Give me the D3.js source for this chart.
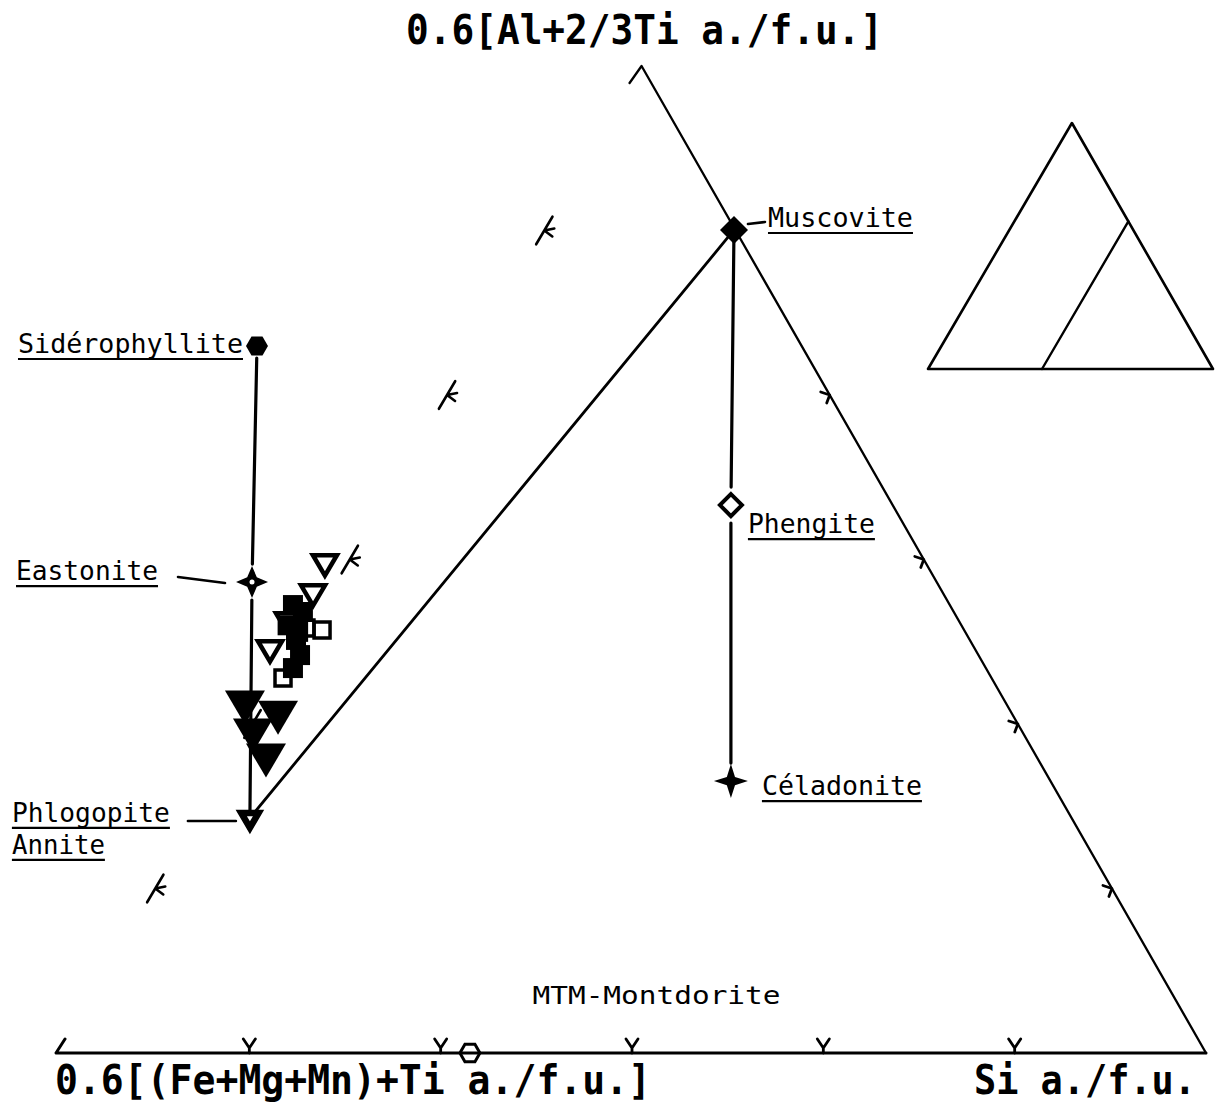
<!DOCTYPE html>
<html><head><meta charset="utf-8">
<script src="https://cdn.jsdelivr.net/npm/d3@7"></script>
<style>body{margin:0;background:#fff}svg{display:block}</style>
</head><body><svg id="c" width="1221" height="1111"></svg>
<script>
// ---------- data ----------
const axisTitles = ["0.6[Al+2/3Ti a./f.u.]", "0.6[(Fe+Mg+Mn)+Ti a./f.u.]", "Si a./f.u."];
const edgeTicks = [1, 2, 3, 4, 5];              // sixths along each edge
const vertexLeft = [0, 0], vertexRight = [6, 0], vertexTop = [3.05, 6];
const endNames = ["Sidérophyllite", "Eastonite", "Phlogopite", "Muscovite", "Phengite", "Céladonite"];
const endX = [1.04, 1.014, 1.003, 3.533, 3.517, 3.517];
const endY = [4.298, 2.863, 1.429, 5.003, 3.331, 1.653];
const phlogopiteSecondName = "Annite";
const axisPointX = [2.153], axisPointY = [0];
const openTriX = [1.395, 1.333, 1.108, 1.202];
const openTriY = [2.985, 2.802, 2.462, 2.632];
const openSqX = [1.380, 1.176, 1.296];
const openSqY = [2.571, 2.280, 2.584];
const filledSqX = [1.228, 1.280, 1.244, 1.265, 1.228, 1.200, 1.255];
const filledSqY = [2.723, 2.681, 2.511, 2.419, 2.340, 2.600, 2.560];
const filledTriX = [0.977, 1.150, 1.019, 1.087];
const filledTriY = [2.134, 2.073, 1.964, 1.812];
const localityLabel = "MTM-Montdorite";
const localityX = 2.48, localityY = 0.30;
const insetVertices = [[0, 0], [0.505, 1], [1, 0]];
const insetDivider = [[0.40, 0], [0.703, 0.6]];

// ---------- setup ----------
const svg = d3.select("#c");
const FONT = "'DejaVu Sans Mono', 'Liberation Mono', monospace";
svg.append("rect").attr("width", 1221).attr("height", 1111).attr("fill", "#fff");
const x = d3.scaleLinear().domain([0, 6]).range([58, 1206]);
const y = d3.scaleLinear().domain([0, 6]).range([1053, 66]);
const P = (ux, uy) => [x(ux), y(uy)];
const g = svg.append("g").attr("stroke-linecap", "round").attr("stroke-linejoin", "round");
const line = d3.line();

function seg(a, b, ga, gb, w) {
  const dx = b[0] - a[0], dy = b[1] - a[1], L = Math.hypot(dx, dy);
  const ux = dx / L, uy = dy / L;
  g.append("path")
    .attr("d", line([[a[0] + ux * ga, a[1] + uy * ga], [b[0] - ux * gb, b[1] - uy * gb]]))
    .attr("stroke", "#000").attr("stroke-width", w).attr("fill", "none");
}

// ---------- frame ----------
const pL = P(...vertexLeft), pR = P(...vertexRight), pT = P(...vertexTop);
g.append("path").attr("d", line([[pL[0] + 7, pL[1] - 14], [pL[0] - 2, pL[1]], pR]))
  .attr("stroke", "#000").attr("stroke-width", 3).attr("fill", "none");
g.append("path").attr("d", line([[pT[0] - 12, pT[1] + 17], pT, pR]))
  .attr("stroke", "#000").attr("stroke-width", 2.3).attr("fill", "none");

edgeTicks.forEach(k => {
  const p = P(k, 0);
  g.append("path").attr("d", `M${p[0] - 6},${p[1] - 14}L${p[0]},${p[1] - 5}L${p[0] + 6},${p[1] - 14}M${p[0]},${p[1] - 5}L${p[0]},${p[1]}`)
    .attr("stroke", "#000").attr("stroke-width", 2.8).attr("fill", "none");
});
edgeTicks.forEach(k => {
  if (k === 5) return;
  const t = k / 6;
  const p = P(vertexRight[0] + (vertexTop[0] - vertexRight[0]) * t, vertexTop[1] * t);
  g.append("path").attr("d", `M${p[0] - 9},${p[1] - 3}L${p[0]},${p[1]}L${p[0] - 3},${p[1] + 8}`)
    .attr("stroke", "#000").attr("stroke-width", 2.8).attr("fill", "none");
});
edgeTicks.forEach(k => {
  const t = k / 6;
  const p = P(vertexTop[0] * t, vertexTop[1] * t);
  const ex = (pT[0] - pL[0]), ey = (pT[1] - pL[1]), EL = Math.hypot(ex, ey);
  const ux = ex / EL, uy = ey / EL;
  g.append("path")
    .attr("d", `M${p[0] - ux * 16},${p[1] - uy * 16}L${p[0] + ux * 16},${p[1] + uy * 16}M${p[0] + 10},${p[1] - 2}L${p[0]},${p[1]}L${p[0] + 8},${p[1] + 6}`)
    .attr("stroke", "#000").attr("stroke-width", 2.6).attr("fill", "none");
});

// ---------- tie lines ----------
const E = endNames.map((n, i) => P(endX[i], endY[i]));
seg(E[0], E[1], 12, 18, 3.2);
seg(E[1], E[2], 18, 8, 3.2);
seg(E[3], E[4], 12, 18, 3.2);
seg(E[4], E[5], 18, 18, 3.2);
seg(E[2], E[3], 8, 10, 2.8);

// ---------- marker shapes ----------
function star(r, f) {
  const w = r * f;
  return `M0,${-r}L${w},${-w}L${r},0L${w},${w}L0,${r}L${-w},${w}L${-r},0L${-w},${-w}Z`;
}
function hexagon(r) {
  return "M" + d3.range(6).map(i => {
    const a = Math.PI / 3 * i;
    return [r * Math.cos(a), r * Math.sin(a)];
  }).join("L") + "Z";
}
function downTri(w) {
  const h = w * 0.85;
  return `M${-w / 2},${-h / 3}L${w / 2},${-h / 3}L0,${2 * h / 3}Z`;
}
function diamond(r) { return `M0,${-r}L${r},0L0,${r}L${-r},0Z`; }
function square(s) { return `M${-s / 2},${-s / 2}h${s}v${s}h${-s}Z`; }

const M = svg.append("g").attr("stroke-linejoin", "miter");
const at = p => `translate(${p[0]},${p[1]})`;
M.append("path").attr("d", hexagon(11)).attr("transform", at(E[0])).attr("fill", "#000");
M.append("path").attr("d", star(16, 0.3)).attr("transform", at(E[1])).attr("fill", "#000");
M.append("circle").attr("r", 2.5).attr("transform", at(E[1])).attr("fill", "#fff");
M.append("path").attr("d", downTri(26)).attr("transform", at(E[2])).attr("fill", "#000").attr("stroke", "#000").attr("stroke-width", 1.5);
M.append("path").attr("d", downTri(6)).attr("transform", at(E[2])).attr("fill", "#fff");
M.append("path").attr("d", diamond(14)).attr("transform", at(E[3])).attr("fill", "#000");
M.append("path").attr("d", diamond(11)).attr("transform", at(E[4])).attr("fill", "#fff").attr("stroke", "#000").attr("stroke-width", 4);
M.append("path").attr("d", star(17, 0.24)).attr("transform", at(E[5])).attr("fill", "#000");
axisPointX.forEach((v, i) => {
  const p = P(v, axisPointY[i]);
  M.append("path").attr("d", hexagon(10)).attr("transform", at(p)).attr("fill", "none").attr("stroke", "#000").attr("stroke-width", 3);
});

filledTriX.forEach((v, i) => M.append("path").attr("d", downTri(40)).attr("transform", at(P(v, filledTriY[i]))).attr("fill", "#000"));
filledSqX.forEach((v, i) => M.append("path").attr("d", square(20)).attr("transform", at(P(v, filledSqY[i]))).attr("fill", "#000"));
openSqX.forEach((v, i) => M.append("path").attr("d", square(16)).attr("transform", at(P(v, openSqY[i]))).attr("fill", "none").attr("stroke", "#000").attr("stroke-width", 3.5));
openTriX.forEach((v, i) => M.append("path").attr("d", downTri(24)).attr("transform", at(P(v, openTriY[i]))).attr("fill", i < 2 ? "#fff" : "none").attr("stroke", "#000").attr("stroke-width", 4.5));

// ---------- labels ----------
const T = svg.append("g").attr("font-family", FONT).attr("fill", "#000");
function label(txt, px, py, anchor, size, len, underline, weight) {
  const t = T.append("text").attr("x", px).attr("y", py).attr("font-size", size)
    .attr("text-anchor", anchor).attr("font-weight", weight || "normal").text(txt);
  if (len) t.attr("textLength", len).attr("lengthAdjust", "spacingAndGlyphs");
  if (underline) {
    const w = len || t.node().getComputedTextLength();
    const x0 = anchor === "end" ? px - w : px;
    T.append("line").attr("x1", x0).attr("x2", x0 + w).attr("y1", py + 6).attr("y2", py + 6)
      .attr("stroke", "#000").attr("stroke-width", 2.2);
  }
  return t;
}
const FS = 27;
label(endNames[0], E[0][0] - 14, E[0][1] + 7, "end", FS, 225, true);
label(endNames[1], E[1][0] - 236, E[1][1] - 2, "start", FS, 142, true);
seg([E[1][0] - 74, E[1][1] - 5], [E[1][0] - 27, E[1][1] + 1], 0, 0, 2.6);
label(endNames[2], E[2][0] - 238, E[2][1] + 4, "start", FS, 158, true);
label(phlogopiteSecondName, E[2][0] - 238, E[2][1] + 36, "start", FS, 93, true);
seg([E[2][0] - 62, E[2][1] + 3], [E[2][0] - 14, E[2][1] + 3], 0, 0, 2.6);
label(endNames[3], E[3][0] + 34, E[3][1] - 3, "start", FS, 145, true);
seg([E[3][0] + 14, E[3][1] - 6], [E[3][0] + 31, E[3][1] - 8], 0, 0, 2.6);
label(endNames[4], E[4][0] + 17, E[4][1] + 28, "start", FS, 127, true);
label(endNames[5], E[5][0] + 31, E[5][1] + 14, "start", FS, 160, true);
label(localityLabel, x(localityX), y(localityY), "start", 25, 248, false);

label(axisTitles[0], pT[0] + 3, 44, "middle", 40, 477, false, "bold");
label(axisTitles[1], pL[0] - 3, 1094, "start", 40, 596, false, "bold");
label(axisTitles[2], 1196, 1094, "end", 40, 222, false, "bold");

// ---------- inset ----------
const xi = d3.scaleLinear().domain([0, 1]).range([928, 1213]);
const yi = d3.scaleLinear().domain([0, 1]).range([369, 123]);
const li = d3.line().x(d => xi(d[0])).y(d => yi(d[1]));
g.append("path").attr("d", li(insetVertices) + "Z").attr("fill", "none").attr("stroke", "#000").attr("stroke-width", 2.6);
g.append("path").attr("d", li(insetDivider)).attr("fill", "none").attr("stroke", "#000").attr("stroke-width", 2.4);
</script>
</body></html>
